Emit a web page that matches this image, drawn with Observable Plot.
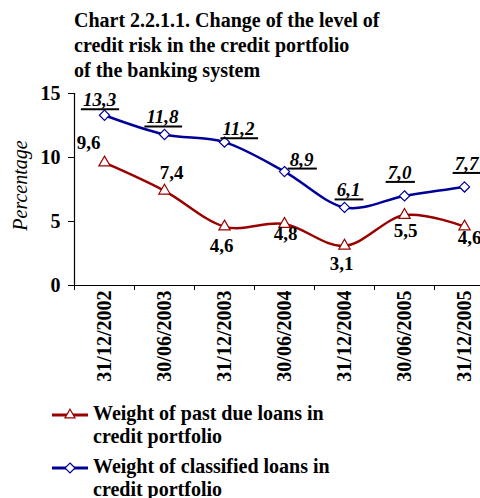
<!DOCTYPE html>
<html><head><meta charset="utf-8">
<script src="https://cdn.jsdelivr.net/npm/d3@7"></script>
<script src="https://cdn.jsdelivr.net/npm/@observablehq/plot@0.6"></script>
<style>
body{margin:0;background:#fff;}
#wrap{position:relative;width:480px;height:498px;overflow:hidden;font-family:"Liberation Serif","Times New Roman",serif;color:#000;}
#title{position:absolute;left:74px;top:8px;font-weight:bold;font-size:20px;line-height:25px;white-space:nowrap;}
#chart{position:absolute;left:0;top:80px;}
#legend{position:absolute;left:0;top:402px;font-weight:bold;font-size:20px;line-height:23px;}
.item{position:relative;padding-left:93px;margin-bottom:7px;white-space:nowrap;}
.item svg{position:absolute;left:50px;top:0;}
</style></head><body>
<div id="wrap">
<div id="title">Chart 2.2.1.1. Change of the level of<br>credit risk in the credit portfolio<br>of the banking system</div>
<div id="chart"></div>
<div id="legend"></div>
</div>
<script>
// ---- data ----
const dates = ["31/12/2002","30/06/2003","31/12/2003","30/06/2004","31/12/2004","30/06/2005","31/12/2005"];
const pastDue = [9.6, 7.4, 4.6, 4.8, 3.1, 5.5, 4.6];
const classified = [13.3, 11.8, 11.2, 8.9, 6.1, 7.0, 7.7];
const seriesNames = [["Weight of past due loans in","credit portfolio"],["Weight of classified loans in","credit portfolio"]];
const yTicks = [0, 5, 10, 15];
const yLabel = "Percentage";

// ---- layout tweaks for data labels (pixel offsets dx, dy from point) ----
const pastDueLabelOffsets = [[-16,-14],[7,-12],[-3,25],[1,16],[-3,24],[1,22],[5,17]];
const classifiedLabelOffsets = [[-5,-9],[-2,-11],[14,-7],[17,-6],[4,-11],[-5,-17],[2,-17]];

const red = "#990000", blue = "#000099";
const fmt = v => v.toFixed(1).replace(".", ",");
const toRows = vals => dates.map((d, i) => ({date: d, value: vals[i], label: fmt(vals[i])}));
const pdRows = toRows(pastDue);
const clRows = toRows(classified);

const labelMarks = (rows, offsets, opts) => rows.map((r, i) => Plot.text([r], {
  x: "date", y: "value", text: "label", dx: offsets[i][0], dy: offsets[i][1],
  lineAnchor: "bottom", textAnchor: "middle", fontSize: 19, fontWeight: "bold", fill: "#000", ...opts
}));

const chart = Plot.plot({
  width: 480, height: 320,
  marginLeft: 74, marginRight: 0, marginTop: 13, marginBottom: 115,
  style: {fontFamily: "'Liberation Serif','Times New Roman',serif", background: "transparent", color: "#000"},
  x: {type: "band", domain: dates, range: [74, 494], padding: 0, label: null},
  y: {domain: [0, 15], label: null},
  marks: [
    Plot.ruleY([0], {stroke: "#000", strokeWidth: 1.2}),
    Plot.ruleX([dates[0]], {y1: 0, y2: 15, dx: -30, stroke: "#000", strokeWidth: 1.2}),
    Plot.axisX({tickSize: 5, tickFormat: () => "", dx: -30, label: null, stroke: "#000"}),
    Plot.axisX({tickSize: 0, tickPadding: 5, tickRotate: -90, fontSize: 20, fontWeight: "bold", label: null}),
    Plot.axisY({ticks: yTicks, tickSize: 6, tickPadding: 8, fontSize: 20, fontWeight: "bold", label: null}),
    Plot.text([yLabel], {frameAnchor: "left", textAnchor: "middle", dx: -54, dy: -4, rotate: -90, fontStyle: "italic", fontSize: 20, fill: "#000"}),
    Plot.line(pdRows, {x: "date", y: "value", stroke: red, strokeWidth: 2.5, curve: "cardinal"}),
    Plot.line(clRows, {x: "date", y: "value", stroke: blue, strokeWidth: 2.5, curve: "cardinal"}),
    Plot.dot(pdRows, {x: "date", y: "value", symbol: "triangle", r: 4.2, stroke: red, fill: "#fff", strokeWidth: 1.2}),
    Plot.dot(clRows, {x: "date", y: "value", symbol: "diamond2", r: 4.6, stroke: blue, fill: "#fff", strokeWidth: 1.2}),
    ...labelMarks(pdRows, pastDueLabelOffsets, {}),
    ...labelMarks(clRows, classifiedLabelOffsets, {fontStyle: "italic"})
  ]
});
document.getElementById("chart").appendChild(chart);

// underline the classified-loan labels (drawn under each text's measured box)
const clLabelSet = new Set(clRows.map(r => r.label));
d3.select(chart).selectAll("text")
  .filter(function () { return clLabelSet.has(this.textContent); })
  .each(function () {
    const b = this.getBBox();
    const t = this.getAttribute("transform");
    d3.select(this.parentNode).append("line")
      .attr("transform", t)
      .attr("x1", b.x - 2).attr("x2", b.x + b.width + 3)
      .attr("y1", b.y + b.height - 1).attr("y2", b.y + b.height - 1)
      .attr("stroke", "#000").attr("stroke-width", 2);
  });

// ---- legend ----
const legend = d3.select("#legend");
const legendDefs = [{color: red, symbol: d3.symbolTriangle, size: 44}, {color: blue, symbol: d3.symbolDiamond2, size: 64}];
seriesNames.forEach((lines, i) => {
  const item = legend.append("div").attr("class", "item");
  const svg = item.append("svg").attr("width", 40).attr("height", 23);
  svg.append("line").attr("x1", 2).attr("x2", 38).attr("y1", 13).attr("y2", 13)
    .attr("stroke", legendDefs[i].color).attr("stroke-width", 3);
  svg.append("path").attr("transform", "translate(20,13)")
    .attr("d", d3.symbol(legendDefs[i].symbol, legendDefs[i].size)())
    .attr("fill", "#fff").attr("stroke", legendDefs[i].color).attr("stroke-width", 1.2);
  item.append("span").html(lines.join("<br>"));
});
</script>
</body></html>
